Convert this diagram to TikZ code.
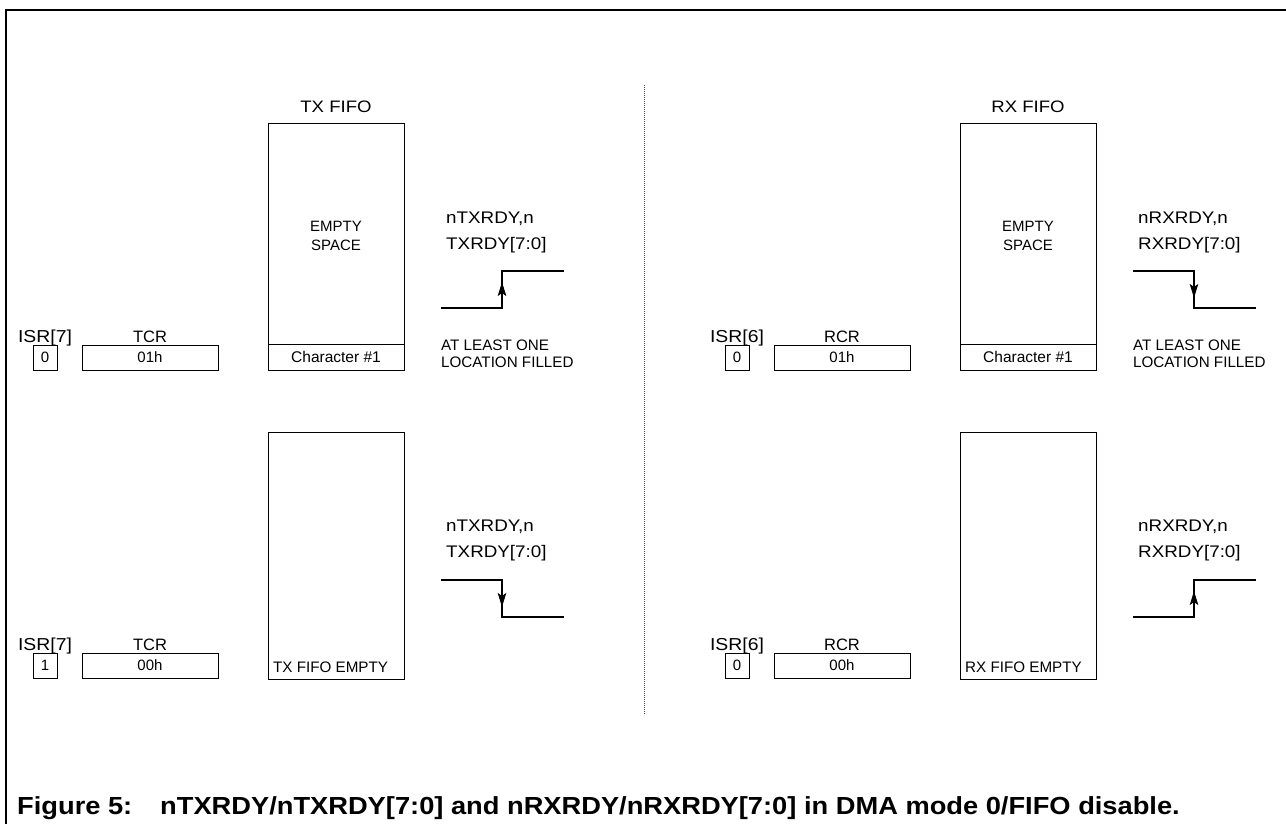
\documentclass[tikz,border=0pt]{standalone}
\usepackage{fontspec}
\setmainfont{Liberation Sans}
\newfontfamily\widefont{Liberation Sans}[FakeStretch=1.12]
\newfontfamily\captionfont{Liberation Sans}[FakeStretch=1.104]
\usetikzlibrary{arrows.meta}
\begin{document}
\begin{tikzpicture}[x=1pt,y=-1pt,
  outerframe/.style={line width=2.6pt},
  regbox/.style={draw, line width=1pt, inner sep=0pt, font=\fontsize{15}{18}\selectfont},
  fifobox/.style={draw, line width=1pt, inner sep=0pt, minimum width=136pt},
  lbl/.style={inner sep=0pt, anchor=base, font=\fontsize{16.5}{20}\selectfont},
  isrlbl/.style={inner sep=0pt, anchor=base, font=\widefont\fontsize{17.3}{20}\selectfont},
  ttl/.style={inner sep=0pt, anchor=base, font=\widefont\fontsize{16.6}{20}\selectfont},
  sig/.style={inner sep=0pt, anchor=base west, font=\widefont\fontsize{16.8}{20}\selectfont},
  note/.style={inner sep=0pt, anchor=base west, font=\fontsize{15.2}{18}\selectfont},
  innertxt/.style={inner sep=0pt, anchor=base, font=\fontsize{15}{18}\selectfont},
  wave/.style={line width=1.1pt},
  tipup/.style={-{Stealth[length=14pt,width=8.5pt,inset=3pt]}, line width=1.1pt},
  divider/.style={line width=0.6pt, black!70, dash pattern=on 0.8pt off 1.2pt},
  captext/.style={inner sep=0pt, anchor=base west, font=\captionfont\bfseries\fontsize{24.7}{28}\selectfont}
]
\useasboundingbox (0,0) rectangle (1286,823);
\fill[white] (0,0) rectangle (1286,823);

% outer frame
\coordinate (fA) at (6,824);
\coordinate (fB) at (6,10);
\coordinate (fC) at (1287,10);
\draw[outerframe] (fA) -- (fB) -- (fC);

% divider
\coordinate (dA) at (644,85);
\coordinate (dB) at (644,715);
\draw[divider] (dA) -- (dB);

%================ LEFT TOP ================
\node[isrlbl] (isrTa) at (45,342) {ISR[7]};
\node[regbox, minimum width=24pt, minimum height=25pt] (isrTb) at (45,357.5) {0};
\node[lbl] (tcrTa) at (150,342) {TCR};
\node[regbox, minimum width=136pt, minimum height=25pt] (tcrTb) at (150,357.5) {01h};
\node[ttl] (txT) at (336,112) {TX FIFO};
\node[fifobox, minimum height=247pt] (fifoT) at (336,246.5) {};
\node[regbox, minimum width=136pt, minimum height=26pt, font=\fontsize{15.5}{18}\selectfont] (charT) at (336,357) {Character \#1};
\node[innertxt] (empT) at (336,231) {EMPTY};
\node[innertxt] (spcT) at (336,250) {SPACE};
\node[sig] (sigTa) at (446,223) {nTXRDY,n};
\node[sig] (sigTb) at (446,249) {TXRDY[7:0]};
\coordinate (wT0) at (441,308);
\coordinate (wT1) at (502,308);
\coordinate (wT2) at (502,271);
\coordinate (wT3) at (564,271);
\draw[wave] (wT0) -- (wT1) -- (wT2) -- (wT3);
\coordinate (aT0) at (502,298);
\coordinate (aT1) at (502,282);
\draw[tipup] (aT0) -- (aT1);
\node[note] (ntTa) at (441,350) {AT LEAST ONE};
\node[note] (ntTb) at (441,367) {LOCATION FILLED};

%================ LEFT BOTTOM ================
\node[isrlbl] (isrBa) at (45,650) {ISR[7]};
\node[regbox, minimum width=24pt, minimum height=25pt] (isrBb) at (45,665.5) {1};
\node[lbl] (tcrBa) at (150,650) {TCR};
\node[regbox, minimum width=136pt, minimum height=25pt] (tcrBb) at (150,665.5) {00h};
\node[fifobox, minimum height=247pt] (fifoB) at (336,555.5) {};
\node[note] (emB) at (273,672) {TX FIFO EMPTY};
\node[sig] (sigBa) at (446,531) {nTXRDY,n};
\node[sig] (sigBb) at (446,557) {TXRDY[7:0]};
\coordinate (wB0) at (441,580);
\coordinate (wB1) at (502,580);
\coordinate (wB2) at (502,617);
\coordinate (wB3) at (564,617);
\draw[wave] (wB0) -- (wB1) -- (wB2) -- (wB3);
\coordinate (aB0) at (502,591);
\coordinate (aB1) at (502,607);
\draw[tipup] (aB0) -- (aB1);

%================ RIGHT TOP ================
\begin{scope}[xshift=692pt]
\node[isrlbl] (isrRTa) at (45,342) {ISR[6]};
\node[regbox, minimum width=24pt, minimum height=25pt] (isrRTb) at (45,357.5) {0};
\node[lbl] (rcrTa) at (150,342) {RCR};
\node[regbox, minimum width=136pt, minimum height=25pt] (rcrTb) at (150,357.5) {01h};
\node[ttl] (rxT) at (336,112) {RX FIFO};
\node[fifobox, minimum height=247pt] (fifoRT) at (336,246.5) {};
\node[regbox, minimum width=136pt, minimum height=26pt, font=\fontsize{15.5}{18}\selectfont] (charRT) at (336,357) {Character \#1};
\node[innertxt] (empRT) at (336,231) {EMPTY};
\node[innertxt] (spcRT) at (336,250) {SPACE};
\node[sig] (sigRTa) at (446,223) {nRXRDY,n};
\node[sig] (sigRTb) at (446,249) {RXRDY[7:0]};
\coordinate (wRT0) at (441,271);
\coordinate (wRT1) at (502,271);
\coordinate (wRT2) at (502,308);
\coordinate (wRT3) at (564,308);
\draw[wave] (wRT0) -- (wRT1) -- (wRT2) -- (wRT3);
\coordinate (aRT0) at (502,282);
\coordinate (aRT1) at (502,298);
\draw[tipup] (aRT0) -- (aRT1);
\node[note] (ntRTa) at (441,350) {AT LEAST ONE};
\node[note] (ntRTb) at (441,367) {LOCATION FILLED};

%================ RIGHT BOTTOM ================
\node[isrlbl] (isrRBa) at (45,650) {ISR[6]};
\node[regbox, minimum width=24pt, minimum height=25pt] (isrRBb) at (45,665.5) {0};
\node[lbl] (rcrBa) at (150,650) {RCR};
\node[regbox, minimum width=136pt, minimum height=25pt] (rcrBb) at (150,665.5) {00h};
\node[fifobox, minimum height=247pt] (fifoRB) at (336,555.5) {};
\node[note] (emRB) at (273,672) {RX FIFO EMPTY};
\node[sig] (sigRBa) at (446,531) {nRXRDY,n};
\node[sig] (sigRBb) at (446,557) {RXRDY[7:0]};
\coordinate (wRB0) at (441,617);
\coordinate (wRB1) at (502,617);
\coordinate (wRB2) at (502,580);
\coordinate (wRB3) at (564,580);
\draw[wave] (wRB0) -- (wRB1) -- (wRB2) -- (wRB3);
\coordinate (aRB0) at (502,607);
\coordinate (aRB1) at (502,591);
\draw[tipup] (aRB0) -- (aRB1);
\end{scope}

% caption
\node[captext] (capA) at (17,814) {Figure 5:};
\node[captext] (capB) at (160,814) {nTXRDY/nTXRDY[7:0] and nRXRDY/nRXRDY[7:0] in DMA mode 0/FIFO disable.};
\end{tikzpicture}
\end{document}
